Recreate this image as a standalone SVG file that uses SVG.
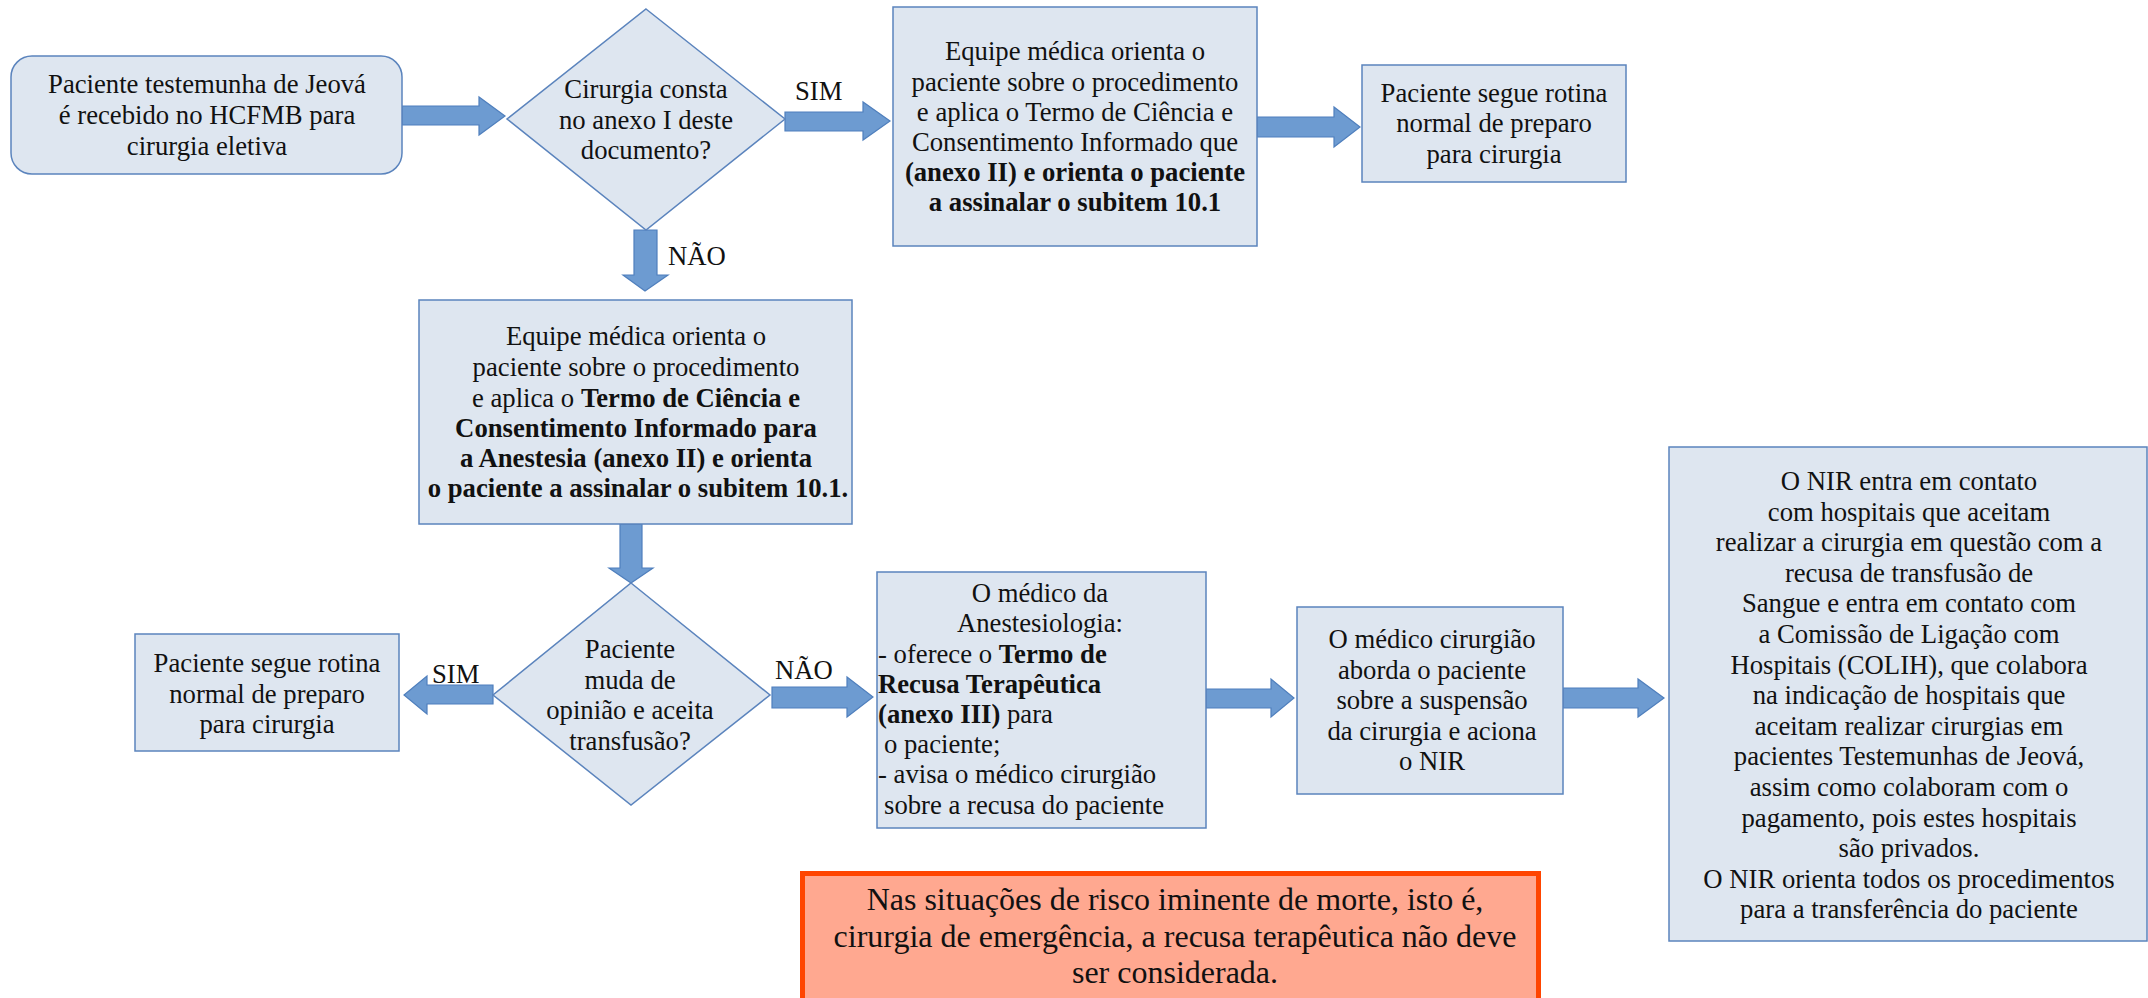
<svg xmlns="http://www.w3.org/2000/svg" width="2148" height="998" viewBox="0 0 2148 998">
<style>
.box{fill:#dee6f0;stroke:#5b84bd;stroke-width:1.5}
.arr{fill:#6d9bd1;stroke:#4f7fbd;stroke-width:1.2}
text{font-family:"Liberation Serif","Times New Roman",serif;font-size:26.7px;fill:#111}
.c{text-anchor:middle}
.b{font-weight:bold}
.warn{fill:#ffa890;stroke:#ff4500;stroke-width:5}
.big{font-size:32px}
</style>
<rect width="2148" height="998" fill="#ffffff"/>
<g id="connectors">
<polygon class="arr" points="402,106 479,106 479,97 505,116 479,135 479,125 402,125"/>
<polygon class="arr" points="785,112 863,112 863,102 890,121 863,140 863,131 785,131"/>
<polygon class="arr" points="634,230 657,230 657,275 668,275 645,291 623,275 634,275"/>
<polygon class="arr" points="1257,117 1334,117 1334,107 1360,127 1334,147 1334,137 1257,137"/>
<polygon class="arr" points="620,524 642,524 642,568 653,568 631,583 609,568 620,568"/>
<polygon class="arr" points="493,685 427,685 427,676 404,695 427,714 427,704 493,704"/>
<polygon class="arr" points="772,687 847,687 847,677 873,697 847,717 847,708 772,708"/>
<polygon class="arr" points="1206,689 1271,689 1271,679 1294,698 1271,717 1271,708 1206,708"/>
<polygon class="arr" points="1563,688 1638,688 1638,679 1664,698 1638,717 1638,708 1563,708"/>
<text x="795" y="100">SIM</text>
<text x="668" y="265">NÃO</text>
<text x="432" y="683">SIM</text>
<text x="775" y="679">NÃO</text>
</g>
<g id="start">
<rect class="box" x="11" y="56" width="391" height="118" rx="21" ry="21"/>
<text class="c" x="207" y="93">Paciente testemunha de Jeová</text>
<text class="c" x="207" y="124">é recebido no HCFMB para</text>
<text class="c" x="207" y="155">cirurgia eletiva</text>
</g>
<g id="decision1">
<polygon class="box" points="646,9 785,119 646,230 507,119"/>
<text class="c" x="646" y="98">Cirurgia consta</text>
<text class="c" x="646" y="128.5">no anexo I deste</text>
<text class="c" x="646" y="159">documento?</text>
</g>
<g id="orienta1">
<rect class="box" x="893" y="7" width="364" height="239"/>
<text class="c" x="1075" y="60">Equipe médica orienta o</text>
<text class="c" x="1075" y="90.5">paciente sobre o procedimento</text>
<text class="c" x="1075" y="121">e aplica o Termo de Ciência e</text>
<text class="c" x="1075" y="151">Consentimento Informado que</text>
<text class="c b" x="1075" y="181">(anexo II) e orienta o paciente</text>
<text class="c b" x="1075" y="211">a assinalar o subitem 10.1</text>
</g>
<g id="rotina1">
<rect class="box" x="1362" y="65" width="264" height="117"/>
<text class="c" x="1494" y="102">Paciente segue rotina</text>
<text class="c" x="1494" y="132">normal de preparo</text>
<text class="c" x="1494" y="163">para cirurgia</text>
</g>
<g id="orienta2">
<rect class="box" x="419" y="300" width="433" height="224"/>
<text class="c" x="636" y="345">Equipe médica orienta o</text>
<text class="c" x="636" y="376">paciente sobre o procedimento</text>
<text class="c" x="636" y="407">e aplica o <tspan class="b">Termo de Ciência e</tspan></text>
<text class="c b" x="636" y="437">Consentimento Informado para</text>
<text class="c b" x="636" y="467">a Anestesia (anexo II) e orienta</text>
<text class="c b" x="638" y="497">o paciente a assinalar o subitem 10.1.</text>
</g>
<g id="decision2">
<polygon class="box" points="631,583 770,695 631,805 493,695"/>
<text class="c" x="630" y="658">Paciente</text>
<text class="c" x="630" y="689">muda de</text>
<text class="c" x="630" y="719">opinião e aceita</text>
<text class="c" x="630" y="750">transfusão?</text>
</g>
<g id="rotina2">
<rect class="box" x="135" y="634" width="264" height="117"/>
<text class="c" x="267" y="672">Paciente segue rotina</text>
<text class="c" x="267" y="703">normal de preparo</text>
<text class="c" x="267" y="733">para cirurgia</text>
</g>
<g id="anestesio">
<rect class="box" x="877" y="572" width="329" height="256"/>
<text class="c" x="1040" y="602">O médico da</text>
<text class="c" x="1040" y="632">Anestesiologia:</text>
<text x="878" y="663">- oferece o <tspan class="b">Termo de</tspan></text>
<text class="b" x="878" y="693">Recusa Terapêutica</text>
<text x="878" y="723"><tspan class="b">(anexo III)</tspan> para</text>
<text x="884" y="753">o paciente;</text>
<text x="878" y="783">- avisa o médico cirurgião</text>
<text x="884" y="814">sobre a recusa do paciente</text>
</g>
<g id="cirurgiao">
<rect class="box" x="1297" y="607" width="266" height="187"/>
<text class="c" x="1432" y="648">O médico cirurgião</text>
<text class="c" x="1432" y="679">aborda o paciente</text>
<text class="c" x="1432" y="709">sobre a suspensão</text>
<text class="c" x="1432" y="740">da cirurgia e aciona</text>
<text class="c" x="1432" y="770">o NIR</text>
</g>
<g id="nir">
<rect class="box" x="1669" y="447" width="478" height="494"/>
<text class="c" x="1909" y="490">O NIR entra em contato</text>
<text class="c" x="1909" y="520.6">com hospitais que aceitam</text>
<text class="c" x="1909" y="551.2">realizar a cirurgia em questão com a</text>
<text class="c" x="1909" y="581.8">recusa de transfusão de</text>
<text class="c" x="1909" y="612.4">Sangue e entra em contato com</text>
<text class="c" x="1909" y="643">a Comissão de Ligação com</text>
<text class="c" x="1909" y="673.6">Hospitais (COLIH), que colabora</text>
<text class="c" x="1909" y="704.2">na indicação de hospitais que</text>
<text class="c" x="1909" y="734.8">aceitam realizar cirurgias em</text>
<text class="c" x="1909" y="765.4">pacientes Testemunhas de Jeová,</text>
<text class="c" x="1909" y="796">assim como colaboram com o</text>
<text class="c" x="1909" y="826.6">pagamento, pois estes hospitais</text>
<text class="c" x="1909" y="857.2">são privados.</text>
<text class="c" x="1909" y="887.8">O NIR orienta todos os procedimentos</text>
<text class="c" x="1909" y="918.4">para a transferência do paciente</text>
</g>
<g id="aviso">
<rect class="warn" x="802.5" y="873.5" width="736" height="135"/>
<text class="c big" x="1175" y="910">Nas situações de risco iminente de morte, isto é,</text>
<text class="c big" x="1175" y="947">cirurgia de emergência, a recusa terapêutica não deve</text>
<text class="c big" x="1175" y="983">ser considerada.</text>
</g>
</svg>
